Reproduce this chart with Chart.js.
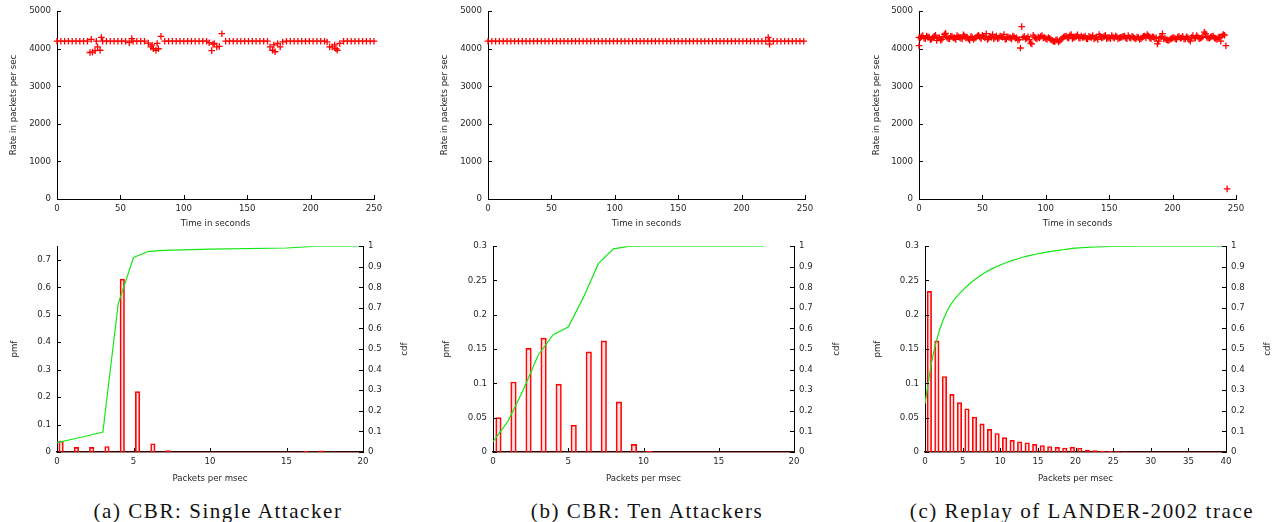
<!DOCTYPE html>
<html><head><meta charset="utf-8">
<script src="https://cdn.jsdelivr.net/npm/chart.js@4.4.0/dist/chart.umd.min.js"></script>
<style>
html,body{margin:0;padding:0;background:#fff;}
body{width:1278px;height:522px;position:relative;overflow:hidden;}
.pane{position:absolute;}
.pane canvas{display:block;}
.cap{position:absolute;top:501px;line-height:20px;font-family:"Liberation Serif",serif;font-size:21px;letter-spacing:1.55px;color:#111;white-space:nowrap;transform:translateX(-50%);}
</style></head><body>
<div class="pane" style="left:0;top:0"><canvas id="ta" width="430" height="235" style="width:430px;height:235px"></canvas></div>
<div class="pane" style="left:430px;top:0"><canvas id="tb" width="428" height="235" style="width:428px;height:235px"></canvas></div>
<div class="pane" style="left:858px;top:0"><canvas id="tc" width="420" height="235" style="width:420px;height:235px"></canvas></div>
<div class="pane" style="left:0;top:235px"><canvas id="ba" width="430" height="250" style="width:430px;height:250px"></canvas></div>
<div class="pane" style="left:430px;top:235px"><canvas id="bb" width="428" height="250" style="width:428px;height:250px"></canvas></div>
<div class="pane" style="left:858px;top:235px"><canvas id="bc" width="420" height="250" style="width:420px;height:250px"></canvas></div>
<div class="cap" style="left:218px">(a) CBR: Single Attacker</div>
<div class="cap" style="left:647px">(b) CBR: Ten Attackers</div>
<div class="cap" style="left:1082px">(c) Replay of LANDER-2002 trace</div>
<script>
// ---------------- data ----------------
const rateTicks = [0, 1000, 2000, 3000, 4000, 5000];
const timeTicks = [0, 50, 100, 150, 200, 250];

// (a) single attacker: time (s) and rate (packets/s)
const timeA = [0,3,6,9,12,15,18,21,24,
  26,27,28,30,31,32,34,35,36,
  39,42,45,48,51,54,
  57,59,60,
  63,66,69,
  72,74,75,76,78,79,80,82,
  85,88,91,94,97,100,103,106,109,112,115,118,
  120,122,123,124,126,128,130,
  133,136,139,142,145,148,151,154,157,160,163,166,
  168,170,171,172,174,176,178,
  181,184,187,190,193,196,199,202,205,208,211,
  213,215,217,219,220,221,223,
  226,229,232,235,238,241,244,247,250];
const rateA = [4200,4200,4200,4200,4200,4200,4200,4200,4200,
  3900,4250,3910,3950,4200,4050,3960,4300,4200,
  4200,4200,4200,4200,4200,4200,
  4160,4270,4200,
  4200,4200,4200,
  4150,4050,4100,4000,3960,4140,4000,4330,
  4200,4200,4200,4200,4200,4200,4200,4200,4200,4200,4200,4200,
  4160,3950,4120,4140,4050,4060,4400,
  4200,4200,4200,4200,4200,4200,4200,4200,4200,4200,4200,4200,
  4050,3960,4100,3920,4140,4050,4180,
  4200,4200,4200,4200,4200,4200,4200,4200,4200,4200,4200,
  4180,4050,4050,4100,4000,3960,4140,
  4200,4200,4200,4200,4200,4200,4200,4200,4200];

// (b) ten attackers
const timeB = [0,3,6,9,12,15,18,21,24,27,30,33,36,39,42,45,48,51,54,57,60,63,66,69,72,75,78,81,84,87,
  90,93,96,99,102,105,108,111,114,117,120,123,126,129,132,135,138,141,144,147,150,153,156,159,162,165,168,171,174,177,
  180,183,186,189,192,195,198,201,204,207,210,213,216,219,222,225,228,231,234,237,240,243,246,249,
  221,222];
const rateB = [4200,4200,4200,4200,4200,4200,4200,4200,4200,4200,4200,4200,4200,4200,4200,4200,4200,4200,4200,4200,4200,4200,4200,4200,4200,4200,4200,4200,4200,4200,
  4200,4200,4200,4200,4200,4200,4200,4200,4200,4200,4200,4200,4200,4200,4200,4200,4200,4200,4200,4200,4200,4200,4200,4200,4200,4200,4200,4200,4200,4200,
  4200,4200,4200,4200,4200,4200,4200,4200,4200,4200,4200,4200,4200,4200,4200,4200,4200,4200,4200,4200,4200,4200,4200,4200,
  4300,4120];

// (c) LANDER-2002 replay: even seconds, then outliers
const timeC = [0,2,4,6,8,10,12,14,16,18,20,22,24,26,28,30,32,34,36,38,
  40,42,44,46,48,50,52,54,56,58,60,62,64,66,68,70,72,74,76,78,
  80,82,84,86,88,90,92,94,96,98,100,102,104,106,108,110,112,114,116,118,
  120,122,124,126,128,130,132,134,136,138,140,142,144,146,148,150,152,154,156,158,
  160,162,164,166,168,170,172,174,176,178,180,182,184,186,188,190,192,194,196,198,
  200,202,204,206,208,210,212,214,216,218,220,222,224,226,228,230,232,234,236,238,240,
  0,81,241,242,243];
const rateC = [4300,4320,4280,4340,4310,4260,4330,4220,4290,4250,4380,4300,4270,4330,4290,4350,4300,4260,4340,4310,
  4230,4300,4280,4340,4310,4360,4290,4250,4330,4380,4300,4270,4340,4310,4250,4320,4290,4340,4280,4230,
  4020,4300,4260,4320,4150,4360,4280,4310,4330,4290,4270,4300,4240,4200,4230,4180,4250,4310,4340,4280,
  4380,4300,4330,4290,4340,4310,4270,4330,4300,4260,4310,4380,4290,4330,4270,4300,4350,4280,4320,4290,
  4310,4340,4270,4300,4330,4280,4310,4250,4300,4340,4380,4290,4320,4270,4130,4300,4400,4280,4230,4250,
  4290,4270,4310,4280,4330,4260,4300,4200,4350,4290,4310,4280,4330,4400,4290,4310,4340,4270,4300,4200,4380,
  4080,4590,4360,4080,270];
// (c) odd seconds
const timeCodd = [1,3,5,7,9,11,13,15,17,19,21,23,25,27,29,31,33,35,37,39,
  41,43,45,47,49,51,53,55,57,59,61,63,65,67,69,71,73,75,77,79,
  83,85,87,89,91,93,95,97,99,101,103,105,107,109,111,113,115,117,119,121,
  123,125,127,129,131,133,135,137,139,141,143,145,147,149,151,153,155,157,159,161,
  163,165,167,169,171,173,175,177,179,181,183,185,187,189,191,193,195,197,199,201,
  203,205,207,209,211,213,215,217,219,221,223,225,227,229,231,233,235,237,239];
const rateCodd = [4290,4350,4270,4310,4240,4300,4360,4280,4230,4320,4410,4270,4330,4290,4250,4320,4280,4370,4290,4260,
  4330,4250,4300,4360,4270,4320,4400,4280,4300,4260,4340,4290,4320,4380,4270,4300,4260,4320,4290,4250,
  4330,4280,4240,4130,4310,4260,4290,4350,4300,4250,4280,4220,4190,4240,4210,4280,4330,4300,4350,4270,
  4310,4370,4280,4300,4340,4260,4310,4350,4290,4250,4330,4300,4360,4290,4270,4310,4340,4260,4300,4330,
  4290,4350,4280,4310,4260,4300,4270,4330,4290,4340,4270,4310,4290,4200,4320,4260,4240,4220,4270,4300,
  4250,4330,4290,4260,4320,4240,4300,4280,4350,4270,4300,4440,4310,4280,4330,4290,4250,4310,4340];

// bottom row: packets per msec, pmf and cdf
const pktA = [0,1,2,3,4,5,6,7,8,9,10,11,12,13,14,15,16,17,18,19,20];
const pmfA = [0.040,0.017,0.017,0.020,0.630,0.220,0.030,0.005,0,0,0,0,0,0,0,0,0.003,0.004,0,0,0];
const cdfXA = [0,1,2,3,4,5,6,7,10,15,17,20];
const cdfA = [0.045,0.062,0.079,0.097,0.72,0.945,0.975,0.98,0.986,0.991,1.0,1.0];

const pktB = [0,1,2,3,4,5,6,7,8,9,10,11,12,13,14,15,16,17,18,19,20];
const pmfB = [0.050,0.102,0.151,0.166,0.099,0.039,0.146,0.162,0.073,0.011,0.001,0,0,0,0,0,0,0,0,0,0];
const cdfXB = [0,1,2,3,4,5,6,7,8,9,10,18];
const cdfB = [0.05,0.15,0.30,0.47,0.57,0.607,0.75,0.915,0.987,0.999,1.0,1.0];

const pktC = [0,1,2,3,4,5,6,7,8,9,10,11,12,13,14,15,16,17,18,19,20,21,22,23,24,25,26];
const pmfC = [0.234,0.162,0.110,0.084,0.072,0.063,0.051,0.041,0.033,0.027,0.021,0.017,0.015,0.0135,0.011,0.0095,0.008,0.0068,0.0058,0.007,0.0058,0.0028,0.002,0.0013,0.0008,0.0005,0.0003];
const cdfXC = [0,1,2,3,4,5,6,7,8,9,10,11,12,13,14,15,16,17,18,19,20,22,25,30,35,40];
const cdfC = [0.235,0.46,0.60,0.69,0.745,0.785,0.82,0.848,0.872,0.892,0.908,0.923,0.935,0.946,0.955,0.963,0.970,0.976,0.981,0.986,0.990,0.995,0.999,1.0,1.0,1.0];

// ---------------- style ----------------
const RED = 'rgb(255,0,0)';
const GREEN = 'rgb(20,230,20)';
const TXT = '#262626';
Chart.defaults.font.family = "'DejaVu Sans', sans-serif";
Chart.defaults.font.size = 8.6;
Chart.defaults.color = TXT;
const LH2 = 8.6 * 1.2 / 2;
const fmt = v => String(Math.round(v * 1000) / 1000);

const innerTicks = {
  id: 'innerTicks',
  afterDraw(chart) {
    const {ctx, chartArea: a} = chart;
    const L = 4;
    ctx.save();
    ctx.strokeStyle = '#000';
    ctx.lineWidth = 1;
    ['x', 'y', 'y2'].forEach(id => {
      const s = chart.scales[id];
      if (!s) return;
      s.ticks.forEach(t => {
        const p = Math.round(s.getPixelForValue(t.value)) + 0.5;
        ctx.beginPath();
        if (id === 'x') { ctx.moveTo(p, a.bottom); ctx.lineTo(p, a.bottom - L); }
        else if (id === 'y') { ctx.moveTo(a.left, p); ctx.lineTo(a.left + L, p); }
        else { ctx.moveTo(a.right, p); ctx.lineTo(a.right - L, p); }
        ctx.stroke();
      });
    });
    ctx.restore();
  }
};

const rightTitle = {
  id: 'rightTitle',
  afterDraw(chart, args, opts) {
    if (!opts || !opts.text) return;
    const {ctx, chartArea: a} = chart;
    ctx.save();
    ctx.translate(opts.x, (a.top + a.bottom) / 2);
    ctx.rotate(-Math.PI / 2);
    ctx.font = "8.6px 'DejaVu Sans', sans-serif";
    ctx.fillStyle = TXT;
    ctx.textAlign = 'center';
    ctx.textBaseline = 'middle';
    ctx.fillText(opts.text, 0, 0);
    ctx.restore();
  }
};

function topChart(cid, series, g) {
  const datasets = series.map(([t, r]) => ({
    data: t.map((x, i) => ({x: x, y: r[i]})),
    pointStyle: 'cross', pointRadius: 3.3, pointHoverRadius: 3.3,
    pointBorderColor: RED, pointBackgroundColor: RED, pointBorderWidth: 1.3, clip: false}));
  return new Chart(document.getElementById(cid), {
    type: 'scatter',
    data: {datasets: datasets},
    options: {
      responsive: false, animation: false, devicePixelRatio: 1,
      layout: {padding: {left: 0, top: g.T, right: g.W - g.R, bottom: 0}},
      plugins: {legend: {display: false}, tooltip: {enabled: false}},
      scales: {
        x: {type: 'linear', min: timeTicks[0], max: timeTicks[timeTicks.length - 1],
          afterBuildTicks: s => { s.ticks = timeTicks.map(v => ({value: v})); },
          ticks: {padding: 5, maxRotation: 0, autoSkip: false, callback: fmt},
          grid: {display: false, drawTicks: false}, border: {color: '#000', width: 1},
          title: {display: true, text: 'Time in seconds', padding: {top: 0, bottom: 6}},
          afterFit: s => { s.height = g.H - g.B; }},
        y: {type: 'linear', min: rateTicks[0], max: rateTicks[rateTicks.length - 1],
          afterBuildTicks: s => { s.ticks = rateTicks.map(v => ({value: v})); },
          ticks: {padding: 6, autoSkip: false, callback: fmt},
          grid: {display: false, drawTicks: false}, border: {color: '#000', width: 1},
          title: {display: true, text: 'Rate in packets per sec', padding: {top: g.YT - LH2, bottom: 0}},
          afterFit: s => { s.width = g.L; }}
      }
    },
    plugins: [innerTicks]
  });
}

function botChart(cid, xs, pmf, cx, cy, g) {
  return new Chart(document.getElementById(cid), {
    type: 'bar',
    data: {datasets: [
      {type: 'line', data: cx.map((x, i) => ({x: x, y: cy[i]})), xAxisID: 'x', yAxisID: 'y2',
        borderColor: GREEN, borderWidth: 1.2, pointRadius: 0, fill: false,
        cubicInterpolationMode: g.smooth ? 'monotone' : 'default', order: 0},
      {type: 'bar', data: xs.map((x, i) => ({x: x, y: pmf[i]})), xAxisID: 'xb', yAxisID: 'y',
        backgroundColor: 'rgba(255,90,90,0.18)', borderColor: RED, borderWidth: 1,
        barThickness: g.bw, order: 1}
    ]},
    options: {
      responsive: false, animation: false, devicePixelRatio: 1,
      layout: {padding: {left: 0, top: g.T, right: 0, bottom: 0}},
      plugins: {legend: {display: false}, tooltip: {enabled: false}, rightTitle: {text: 'cdf', x: g.CT}},
      scales: {
        x: {type: 'linear', min: 0, max: g.xmax, offset: false,
          ticks: {stepSize: 5, padding: 5, maxRotation: 0, autoSkip: false, callback: fmt},
          grid: {display: false, offset: false, drawTicks: false}, border: {color: '#3a0000', width: 1.6},
          title: {display: true, text: 'Packets per msec', padding: {top: 0, bottom: 1.5}},
          afterFit: s => { s.height = g.H - g.B; }},
        xb: {type: 'linear', display: false, min: -g.shift, max: g.xmax - g.shift, offset: false, grid: {offset: false}},
        y: {type: 'linear', position: 'left', min: 0, max: g.pmax,
          ticks: {stepSize: g.pstep, includeBounds: false, padding: 6, autoSkip: false, callback: fmt},
          grid: {display: false, drawTicks: false}, border: {color: '#000', width: 1},
          title: {display: true, text: 'pmf', padding: {top: g.YT - LH2, bottom: 0}},
          afterFit: s => { s.width = g.L; }},
        y2: {type: 'linear', position: 'right', min: 0, max: 1,
          ticks: {stepSize: 0.1, padding: 5, autoSkip: false, callback: fmt},
          grid: {display: false, drawTicks: false}, border: {color: '#000', width: 1},
          afterFit: s => { s.width = g.W - g.R; }}
      }
    },
    plugins: [innerTicks, rightTitle]
  });
}

topChart('ta', [[timeA, rateA]], {W: 430, H: 235, L: 57, R: 374, T: 11, B: 199, YT: 13.5});
topChart('tb', [[timeB, rateB]], {W: 428, H: 235, L: 58, R: 375, T: 11, B: 199, YT: 15});
topChart('tc', [[timeC, rateC], [timeCodd, rateCodd]], {W: 420, H: 235, L: 61, R: 378, T: 11, B: 199, YT: 18.3});

botChart('ba', pktA, pmfA, cdfXA, cdfA, {W: 430, H: 250, L: 57, R: 363, T: 10, B: 217, YT: 15, CT: 405, xmax: 20, pmax: 0.75, pstep: 0.1, bw: 4.5, shift: 0.12});
botChart('bb', pktB, pmfB, cdfXB, cdfB, {W: 428, H: 250, L: 63, R: 364, T: 10, B: 217, YT: 17, CT: 407, xmax: 20, pmax: 0.3, pstep: 0.05, bw: 5.5, shift: 0.18});
botChart('bc', pktC, pmfC, cdfXC, cdfC, {W: 420, H: 250, L: 67, R: 368, T: 10, B: 217, YT: 20, CT: 410, xmax: 40, pmax: 0.3, pstep: 0.05, bw: 4.5, shift: 0.28, smooth: true});
</script>
</body></html>
